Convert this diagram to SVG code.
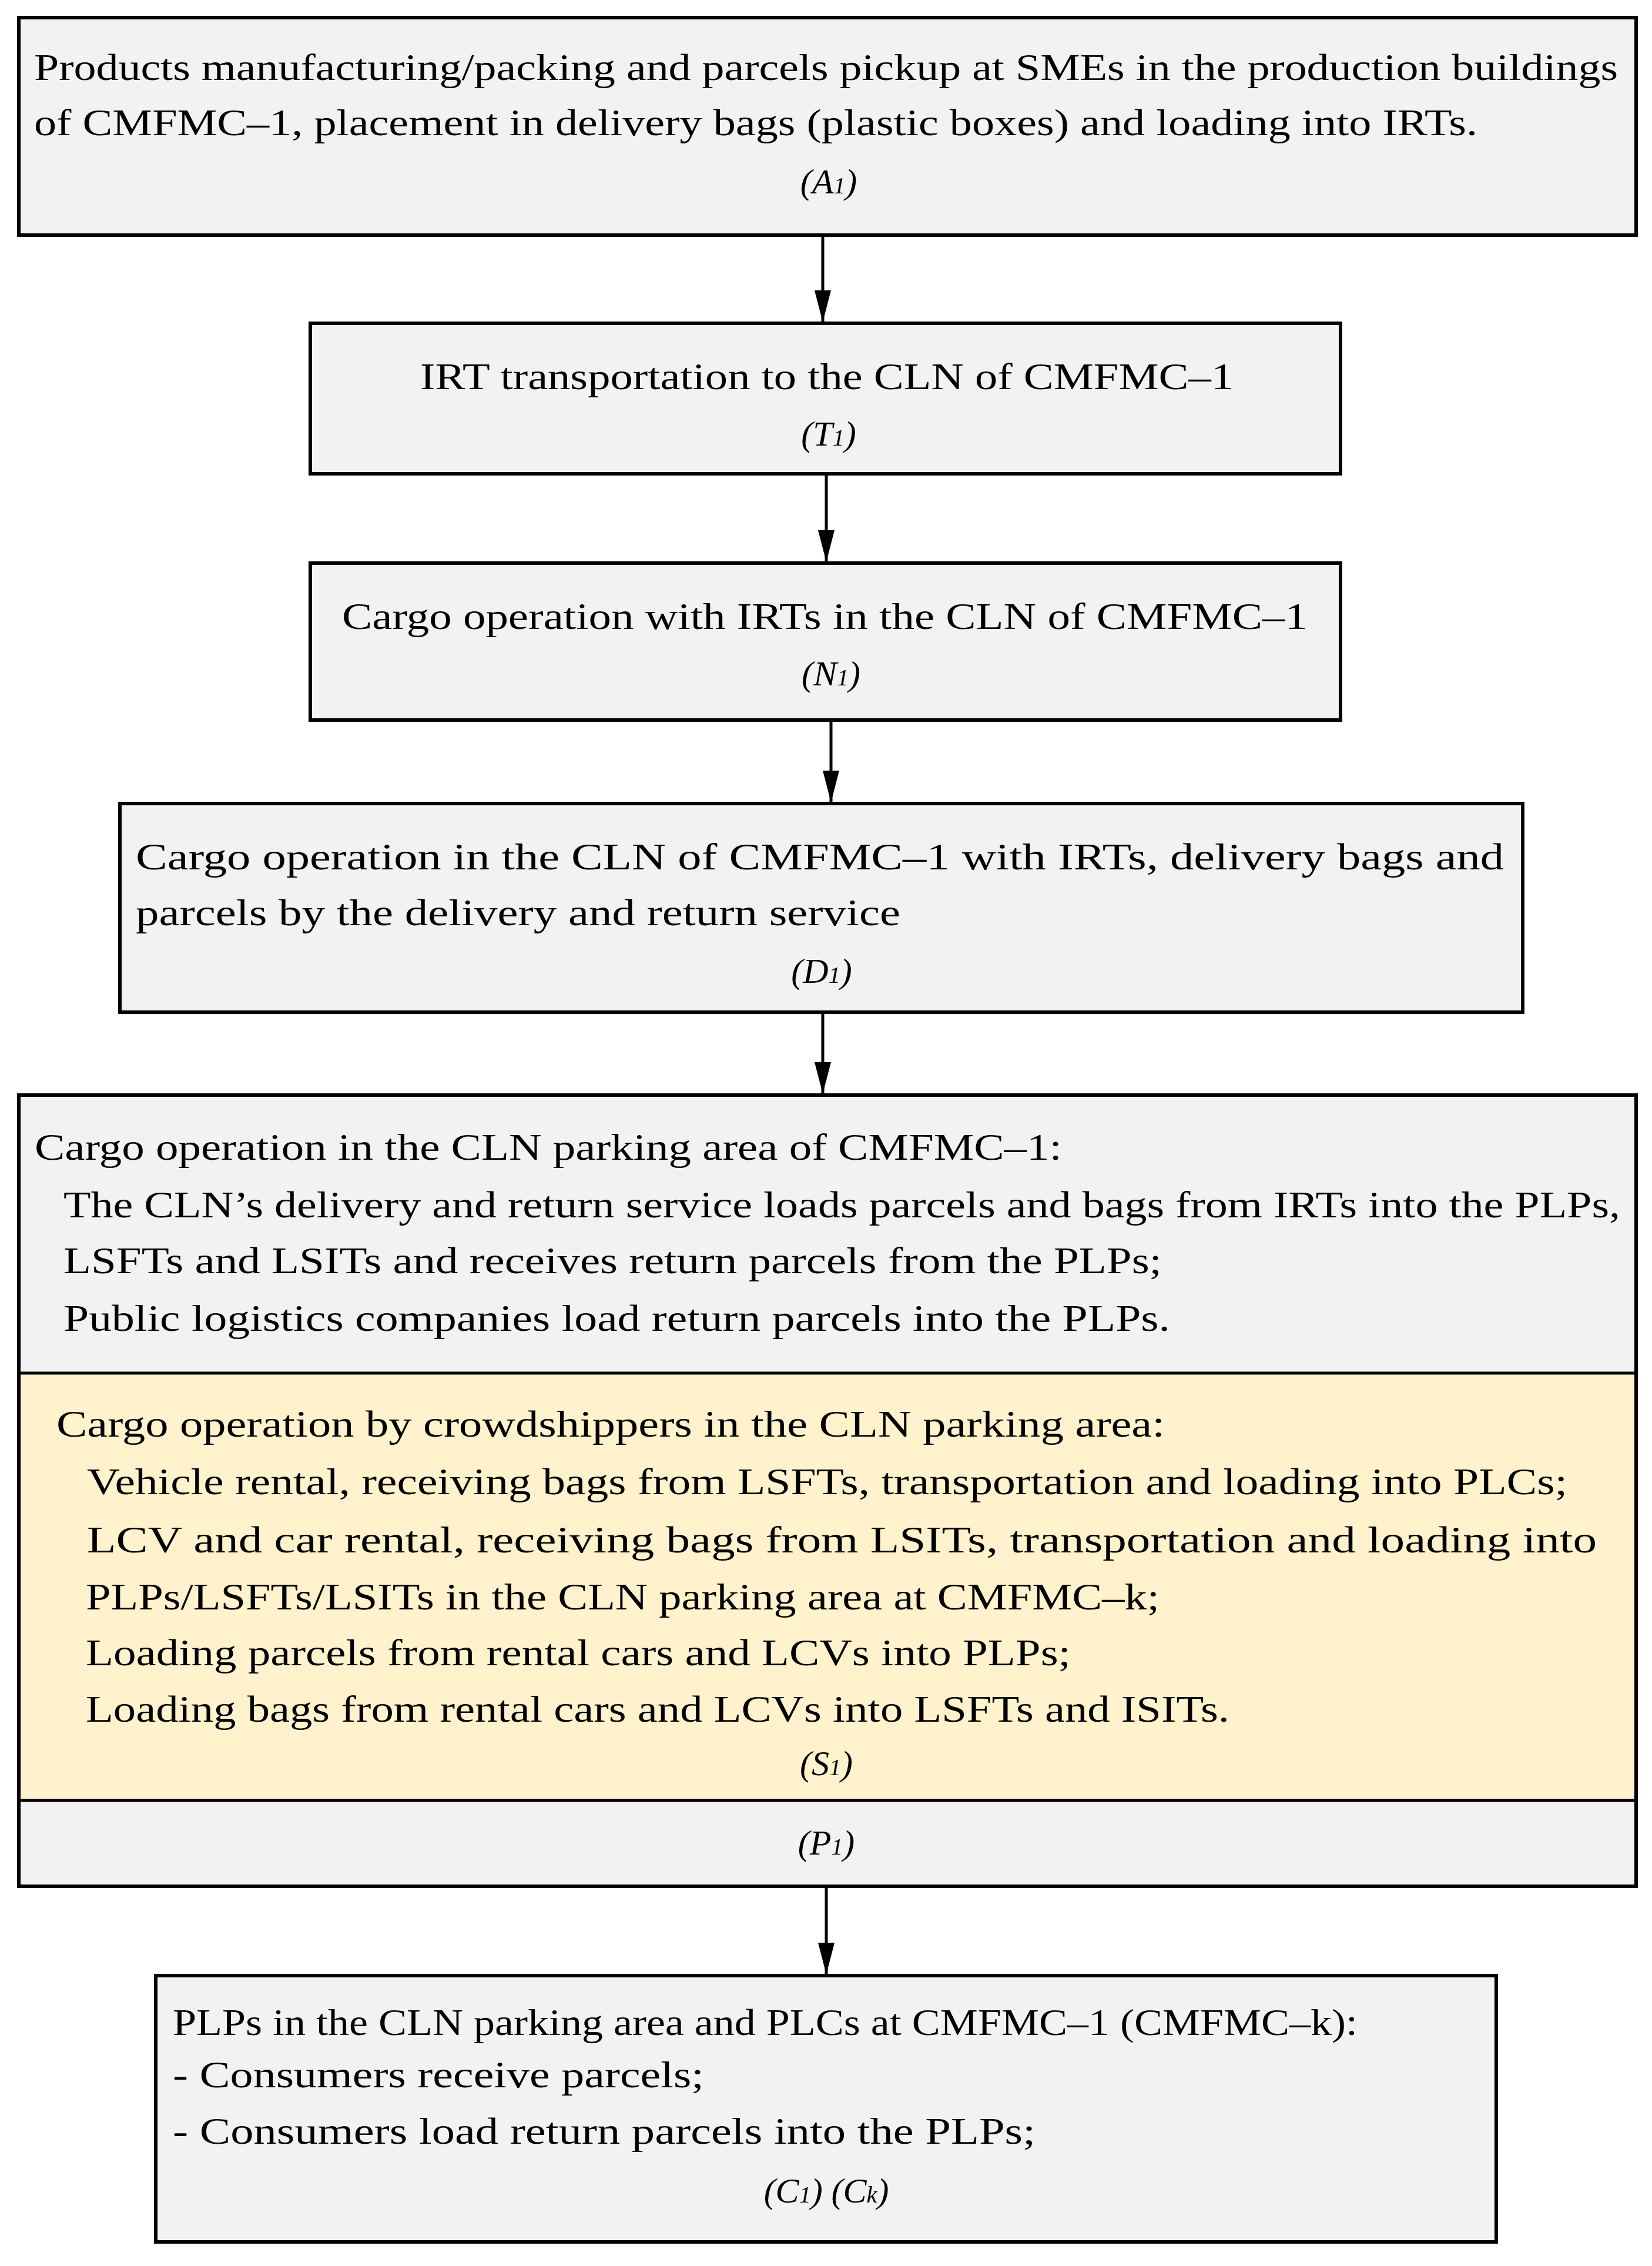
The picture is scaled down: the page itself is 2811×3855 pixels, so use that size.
<svg xmlns="http://www.w3.org/2000/svg" width="2811" height="3855" viewBox="0 0 2811 3855">
<style>
.b{fill:#f2f2f2;stroke:#000;stroke-width:6}
.y{fill:#fff2cc}
text{font-family:"Liberation Serif","DejaVu Serif",serif;font-size:64px;fill:#000}
.c{text-anchor:middle}
.l{font-style:italic;font-size:60px}
.s{font-size:40px}
.e{stroke:#000;stroke-width:5;fill:none}
</style>
<defs><marker id="ah" markerWidth="14" markerHeight="26" refX="7" refY="26" orient="auto" markerUnits="userSpaceOnUse" viewBox="0 0 14 26"><path d="M0,0 L7,26 L14,0 Z" fill="#000" transform="rotate(0)"/></marker></defs>
<g id="connectors">
<path class="e" d="M1400,400 V548"/>
<path d="M1386,494 L1400,548 L1414,494 Z"/>
<path class="e" d="M1406,806 V956"/>
<path d="M1392,902 L1406,956 L1420,902 Z"/>
<path class="e" d="M1414,1225 V1365"/>
<path d="M1400,1311 L1414,1365 L1428,1311 Z"/>
<path class="e" d="M1400,1722 V1861"/>
<path d="M1386,1807 L1400,1861 L1414,1807 Z"/>
<path class="e" d="M1406,3209 V3359"/>
<path d="M1392,3305 L1406,3359 L1420,3305 Z"/>
</g>
<g id="A1">
<rect class="b" x="32" y="30" width="2752" height="370"/>
<text x="58" y="136" textLength="2695" lengthAdjust="spacingAndGlyphs">Products manufacturing/packing and parcels pickup at SMEs in the production buildings</text>
<text x="58" y="230" textLength="2456" lengthAdjust="spacingAndGlyphs">of CMFMC–1, placement in delivery bags (plastic boxes) and loading into IRTs.</text>
<text class="c l" x="1410" y="329">(A<tspan class="s">1</tspan>)</text>
</g>
<g id="T1">
<rect class="b" x="528" y="550" width="1753" height="256"/>
<text x="715" y="662" textLength="1384" lengthAdjust="spacingAndGlyphs">IRT transportation to the CLN of CMFMC–1</text>
<text class="c l" x="1410" y="758">(T<tspan class="s">1</tspan>)</text>
</g>
<g id="N1">
<rect class="b" x="528" y="958" width="1753" height="267"/>
<text x="582" y="1070" textLength="1643" lengthAdjust="spacingAndGlyphs">Cargo operation with IRTs in the CLN of CMFMC–1</text>
<text class="c l" x="1414" y="1166">(N<tspan class="s">1</tspan>)</text>
</g>
<g id="D1">
<rect class="b" x="204" y="1367" width="2387" height="355"/>
<text x="231" y="1479" textLength="2328" lengthAdjust="spacingAndGlyphs">Cargo operation in the  CLN of CMFMC–1 with IRTs, delivery bags and</text>
<text x="231" y="1574" textLength="1301" lengthAdjust="spacingAndGlyphs">parcels by the delivery and return service</text>
<text class="c l" x="1398" y="1672">(D<tspan class="s">1</tspan>)</text>
</g>
<g id="P1">
<rect class="b" x="32" y="1863" width="2752" height="1346"/>
<rect class="y" x="35" y="2336" width="2746" height="727"/>
<path class="e" d="M32,2336 H2784 M32,3063 H2784" stroke-width="6"/>
<text x="59" y="1973" textLength="1748" lengthAdjust="spacingAndGlyphs">Cargo operation in the CLN parking area of CMFMC–1:</text>
<text x="108" y="2071" textLength="2649" lengthAdjust="spacingAndGlyphs">The CLN’s delivery and return service loads parcels and bags from IRTs into the PLPs,</text>
<text x="108" y="2166" textLength="1869" lengthAdjust="spacingAndGlyphs">LSFTs and LSITs and receives return parcels from the PLPs;</text>
<text x="108" y="2264" textLength="1883" lengthAdjust="spacingAndGlyphs">Public logistics companies load return parcels into the PLPs.</text>
<g id="S1">
<text x="96" y="2444" textLength="1886" lengthAdjust="spacingAndGlyphs">Cargo operation by crowdshippers in the CLN parking area:</text>
<text x="148" y="2542" textLength="2519" lengthAdjust="spacingAndGlyphs">Vehicle rental, receiving bags from LSFTs, transportation and loading into PLCs;</text>
<text x="148" y="2641" textLength="2569" lengthAdjust="spacingAndGlyphs">LCV and car rental, receiving bags from LSITs, transportation and loading into</text>
<text x="146" y="2738" textLength="1827" lengthAdjust="spacingAndGlyphs">PLPs/LSFTs/LSITs in the CLN parking area at CMFMC–k;</text>
<text x="146" y="2833" textLength="1676" lengthAdjust="spacingAndGlyphs">Loading parcels from rental cars and LCVs into PLPs;</text>
<text x="146" y="2929" textLength="1946" lengthAdjust="spacingAndGlyphs">Loading bags from rental cars and LCVs into LSFTs and ISITs.</text>
<text class="c l" x="1406" y="3020">(S<tspan class="s">1</tspan>)</text>
</g>
<text class="c l" x="1406" y="3155">(P<tspan class="s">1</tspan>)</text>
</g>
<g id="C1">
<rect class="b" x="265" y="3361" width="2281" height="453"/>
<text x="294" y="3462" textLength="2016" lengthAdjust="spacingAndGlyphs">PLPs in the CLN parking area and PLCs at CMFMC–1 (CMFMC–k):</text>
<text x="294" y="3551" textLength="904" lengthAdjust="spacingAndGlyphs">- Consumers receive parcels;</text>
<text x="294" y="3647" textLength="1468" lengthAdjust="spacingAndGlyphs">- Consumers load return parcels into the PLPs;</text>
<text class="c l" x="1406" y="3747">(C<tspan class="s">1</tspan>) (C<tspan class="s">k</tspan>)</text>
</g>
</svg>
